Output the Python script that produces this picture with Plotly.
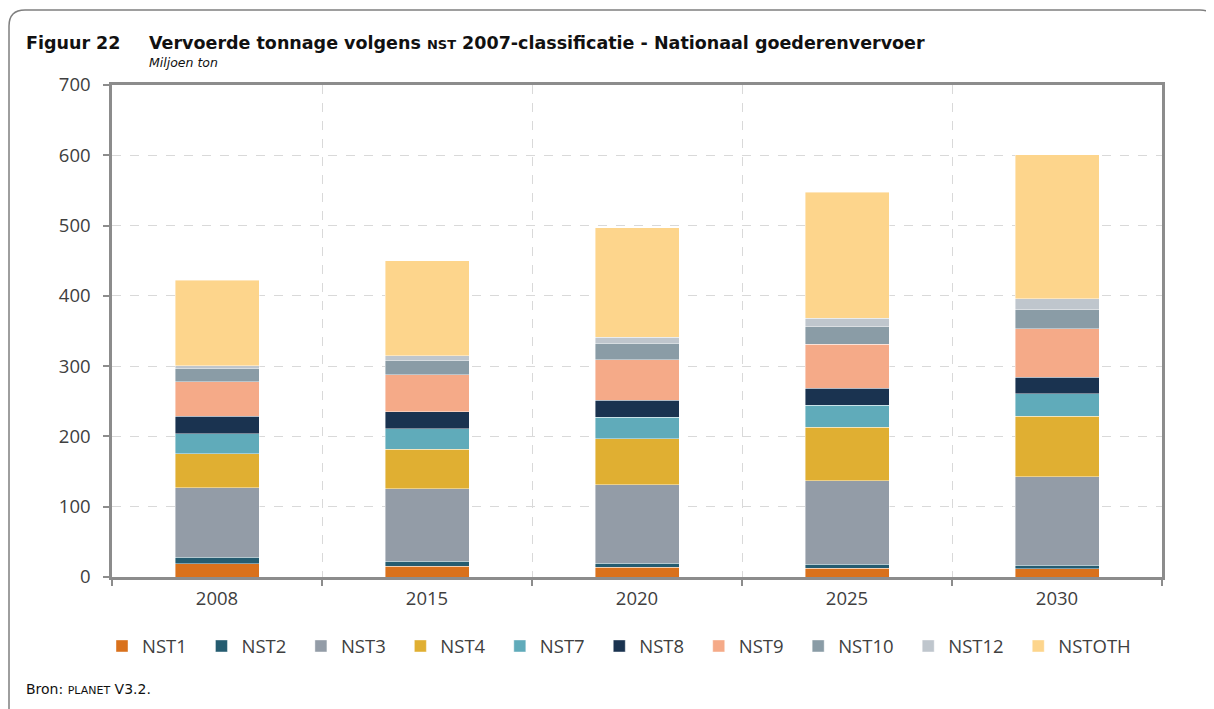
import plotly.graph_objects as go

years = ["2008", "2015", "2020", "2025", "2030"]
series_names = ["NST1", "NST2", "NST3", "NST4", "NST7", "NST8", "NST9", "NST10", "NST12", "NSTOTH"]
NST1 = [19.0, 15.4, 14.0, 12.5, 11.6]
NST2 = [9.1, 7.1, 5.6, 5.7, 5.2]
NST3 = [98.7, 102.8, 111.4, 118.5, 125.6]
NST4 = [48.3, 56.3, 65.8, 76.2, 86.1]
NST7 = [29.0, 29.4, 30.4, 31.8, 32.3]
NST8 = [24.5, 23.8, 24.1, 23.7, 23.7]
NST9 = [49.0, 53.0, 57.8, 62.5, 68.7]
NST10 = [19.4, 20.4, 23.2, 25.1, 27.0]
NST12 = [3.8, 6.6, 8.5, 12.4, 15.6]
NSTOTH = [121.2, 135.5, 155.9, 179.0, 204.7]
series_values = [NST1, NST2, NST3, NST4, NST7, NST8, NST9, NST10, NST12, NSTOTH]
colors = ["#D9711C", "#255C70", "#939CA7", "#E0AF32", "#60ABBA",
          "#1A3350", "#F5AA88", "#8A9CA6", "#BFC6CD", "#FDD58C"]
y_ticks = [0, 100, 200, 300, 400, 500, 600, 700]

# page has an 8px body margin; work in screen coordinates and convert
OFF = 8
W, H = 1214, 709
plot_left, plot_right, plot_top, plot_bottom = 112, 1162, 85, 577.5
L = plot_left - OFF
T = plot_top - OFF
R = W - (plot_right - OFF)
B = H - (plot_bottom - OFF)
pw, ph = plot_right - plot_left, plot_bottom - plot_top

def px(x):
    return (x - plot_left) / pw

def py(y):
    return (plot_bottom - y) / ph

fig = go.Figure()
for name, vals, col in zip(series_names, series_values, colors):
    fig.add_trace(go.Bar(
        x=years, y=vals, name=name + "\u00a0\u00a0",
        marker=dict(color=col, line=dict(color="rgba(255,255,255,0.6)", width=0.7)),
    ))

font_main = "Open Sans"
fig.update_layout(
    width=W, height=H,
    barmode="stack", bargap=0.6,
    margin=dict(l=L, r=R, t=T, b=B, pad=0),
    paper_bgcolor="white", plot_bgcolor="white",
    font=dict(family=font_main, color="#404040", size=18),
    legend=dict(orientation="h", x=px(102), xanchor="left", y=py(647), yanchor="middle",
                font=dict(size=18.5, color="#404040"), itemclick=False,
                traceorder="normal"),
    xaxis=dict(
        type="category", tickson="boundaries", ticks="outside", ticklen=6,
        tickcolor="#8c8c8c", tickwidth=2,
        showline=True, linecolor="#8c8c8c", linewidth=2.5, mirror=True,
        showgrid=True, gridcolor="#d9d9d9", griddash="dash", gridwidth=1,
        ticklabelstandoff=3,
        tickfont=dict(size=18.5, color="#404040"),
    ),
    yaxis=dict(
        range=[0, 700], tickvals=y_ticks, ticks="outside", ticklen=6,
        tickcolor="#8c8c8c", tickwidth=2,
        showline=True, linecolor="#8c8c8c", linewidth=2.5, mirror=True,
        showgrid=True, gridcolor="#d9d9d9", griddash="dash", gridwidth=1,
        zeroline=False, ticklabelstandoff=9,
        tickfont=dict(size=18.5, color="#404040"),
    ),
)

title_font = "DejaVu Sans"
fig.add_annotation(
    x=px(24), y=py(43), xref="paper", yref="paper", xanchor="left", yanchor="middle",
    text="<b>Figuur 22</b>", showarrow=False,
    font=dict(family=title_font, size=17.5, color="#111111"),
)
fig.add_annotation(
    x=px(147), y=py(43), xref="paper", yref="paper", xanchor="left", yanchor="middle",
    text="<b>Vervoerde tonnage volgens <span style='font-size:13px'>NST</span> 2007-classificatie - Nationaal goederenvervoer</b>",
    showarrow=False, font=dict(family=title_font, size=17.5, color="#111111"),
)
fig.add_annotation(
    x=px(147), y=py(62), xref="paper", yref="paper", xanchor="left", yanchor="middle",
    text="<i>Miljoen ton</i>", showarrow=False,
    font=dict(family=title_font, size=12.5, color="#111111"),
)
fig.add_annotation(
    x=px(24), y=py(690), xref="paper", yref="paper", xanchor="left", yanchor="middle",
    text="Bron: <span style='font-size:11px'>PLANET</span> V3.2.", showarrow=False,
    font=dict(family=title_font, size=14, color="#111111"),
)

# rounded outer frame (screen coordinates)
x0, y0, x1, y1, r = 9, 10, 1216, 712, 16
path = (f"M {px(x0)},{py(y1)} L {px(x0)},{py(y0 + r)} "
        f"Q {px(x0)},{py(y0)} {px(x0 + r)},{py(y0)} "
        f"L {px(x1 - r)},{py(y0)} Q {px(x1)},{py(y0)} {px(x1)},{py(y0 + r)} "
        f"L {px(x1)},{py(y1)}")
fig.add_shape(type="path", path=path, xref="paper", yref="paper",
              line=dict(color="#7f7f7f", width=1.5), layer="above")

fig.write_html("out.html")
